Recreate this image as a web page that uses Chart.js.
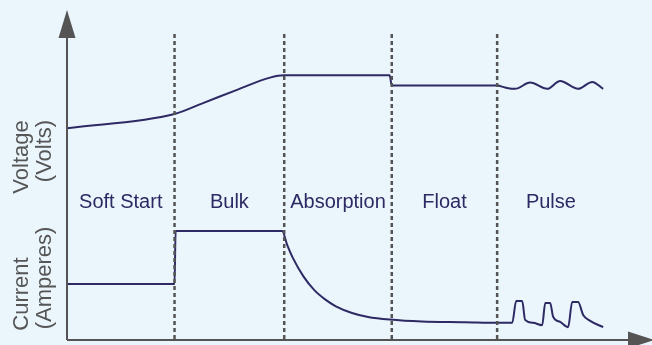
<!DOCTYPE html>
<html>
<head>
    <title>Charging Stages</title>
    <script src="https://cdn.jsdelivr.net/npm/chart.js"></script>
    <style>
        body { margin: 0; background: #eaf5fc; }
        #wrap { width: 652px; height: 345px; position: relative; }
    </style>
</head>
<body>
    <div id="wrap">
        <canvas id="stageChart"></canvas>
    </div>

    <script>
        // phases along the time axis (arbitrary units), boundaries at the dashed lines
        const phaseNames = ['Soft Start', 'Bulk', 'Absorption', 'Float', 'Pulse'];
        const phaseEdges = [0, 1, 2.02, 3.02, 4, 5];

        // voltage trace (relative level 0-100)
        const voltageT = [0, 1.0, 1.265, 1.581, 1.888, 2.02, 3.0, 3.02, 4.0,
            4.074, 4.167, 4.307, 4.465, 4.586, 4.753, 4.884, 4.986];
        const voltageV = [64.2, 68.5, 71.8, 75.8, 79.5, 80.2, 80.2, 77.1, 77.1,
            76.5, 76.1, 78.0, 76.1, 78.5, 76.1, 78.2, 76.1];

        // current trace (relative level 0-100)
        const currentT = [0, 1.0, 1.01, 2.0, 2.05, 2.1, 2.2, 2.3, 2.4, 2.5, 2.65, 2.8, 3.0,
            3.3, 3.7, 4.0, 4.14, 4.177, 4.233, 4.26, 4.335, 4.419, 4.447, 4.493, 4.521,
            4.586, 4.66, 4.698, 4.753, 4.8, 4.865, 4.986];
        const currentV = [17.0, 17.0, 33.0, 33.0, 28.6, 24.9, 19.2, 15.1, 12.3, 10.2, 8.2, 7.0, 6.2,
            5.6, 5.4, 5.2, 5.2, 11.8, 11.8, 6.1, 5.2, 4.5, 11.2, 11.2, 7.0,
            5.5, 3.9, 11.5, 11.5, 7.6, 5.8, 3.9];

        const lineColor = '#2d2963';
        const axisColor = '#545454';

        const toPoints = (ts, vs) => ts.map((t, i) => ({ x: t, y: vs[i] }));

        const decor = {
            id: 'decor',
            afterDatasetsDraw(chart) {
                const ctx = chart.ctx;
                const x = chart.scales.x;
                const y = chart.scales.y;
                const x0 = x.getPixelForValue(0);
                const y0 = y.getPixelForValue(0);
                const yTop = y.getPixelForValue(100);
                ctx.save();

                // dashed phase boundaries
                ctx.strokeStyle = axisColor;
                ctx.lineWidth = 2.5;
                ctx.setLineDash([4, 3]);
                for (let i = 1; i < phaseEdges.length - 1; i++) {
                    const px = x.getPixelForValue(phaseEdges[i]);
                    ctx.beginPath();
                    ctx.moveTo(px, y.getPixelForValue(92.7));
                    ctx.lineTo(px, y0);
                    ctx.stroke();
                }
                ctx.setLineDash([]);

                // axes with arrow heads
                ctx.lineWidth = 2;
                ctx.beginPath();
                ctx.moveTo(x0, y0);
                ctx.lineTo(x0, yTop + 26);
                ctx.moveTo(x0, y0);
                ctx.lineTo(chart.chartArea.right - 22, y0);
                ctx.stroke();
                ctx.fillStyle = axisColor;
                ctx.beginPath();
                ctx.moveTo(x0, yTop);
                ctx.lineTo(x0 - 8.5, yTop + 28);
                ctx.lineTo(x0 + 8.5, yTop + 28);
                ctx.closePath();
                ctx.fill();
                const xr = chart.chartArea.right;
                ctx.beginPath();
                ctx.moveTo(xr + 2, y0);
                ctx.lineTo(xr - 24, y0 - 8.5);
                ctx.lineTo(xr - 24, y0 + 8.5);
                ctx.closePath();
                ctx.fill();

                // phase labels
                ctx.fillStyle = lineColor;
                ctx.font = '20px "Liberation Sans", Arial, sans-serif';
                ctx.textAlign = 'center';
                ctx.textBaseline = 'alphabetic';
                for (let i = 0; i < phaseNames.length; i++) {
                    const mid = (phaseEdges[i] + phaseEdges[i + 1]) / 2;
                    ctx.fillText(phaseNames[i], x.getPixelForValue(mid), y.getPixelForValue(40));
                }

                // axis titles (rotated)
                ctx.fillStyle = '#565656';
                ctx.font = '22px "Liberation Sans", Arial, sans-serif';
                const titles = [
                    ['Voltage', 28, 157], ['(Volts)', 51, 151],
                    ['Current', 28, 294], ['(Amperes)', 51, 278]
                ];
                titles.forEach(([txt, tx, ty]) => {
                    ctx.save();
                    ctx.translate(tx, ty);
                    ctx.rotate(-Math.PI / 2);
                    ctx.fillText(txt, 0, 0);
                    ctx.restore();
                });
                ctx.restore();
            }
        };

        const ctx = document.getElementById('stageChart').getContext('2d');
        new Chart(ctx, {
            type: 'line',
            data: {
                datasets: [{
                    label: 'Voltage',
                    data: toPoints(voltageT, voltageV),
                    borderColor: lineColor,
                    borderWidth: 2,
                    pointRadius: 0,
                    cubicInterpolationMode: 'monotone'
                }, {
                    label: 'Current',
                    data: toPoints(currentT, currentV),
                    borderColor: lineColor,
                    borderWidth: 2,
                    pointRadius: 0,
                    cubicInterpolationMode: 'monotone'
                }]
            },
            options: {
                responsive: true,
                maintainAspectRatio: false,
                animation: false,
                layout: { padding: { left: 67, right: 0, top: 10, bottom: 5 } },
                scales: {
                    x: { type: 'linear', min: 0, max: 5.44, display: false },
                    y: { min: 0, max: 100, display: false }
                },
                plugins: {
                    legend: { display: false },
                    tooltip: { enabled: false }
                }
            },
            plugins: [decor]
        });
    </script>
</body>
</html>
